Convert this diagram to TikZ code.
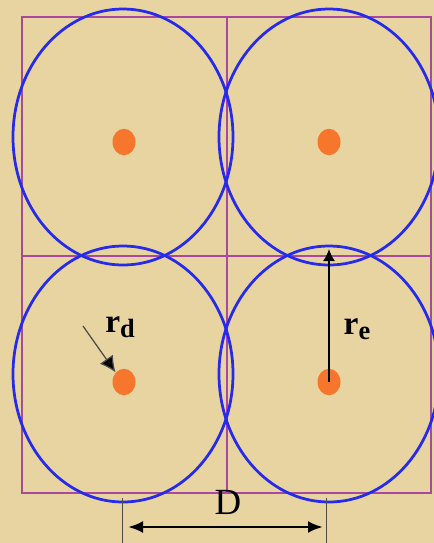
\documentclass[tikz,border=0pt]{standalone}
\usepackage{fontspec}
\setmainfont{Liberation Serif}
\usetikzlibrary{arrows.meta,positioning,shapes.geometric}
\definecolor{paper}{RGB}{232,212,160}
\definecolor{gridpurple}{RGB}{170,72,160}
\definecolor{ringblue}{RGB}{38,42,235}
\definecolor{dotorange}{RGB}{246,118,46}
\newcommand{\sublbl}[2]{#1\raisebox{-2.6pt}{\fontsize{15}{15}\selectfont #2}}

\begin{document}
\begin{tikzpicture}[
  x=0.2mm,y=-0.2mm,>=Latex,
  cell/.style={draw=gridpurple,line width=0.4mm},
  ring/.style={draw=ringblue,line width=0.55mm},
  well/.style={ellipse,fill=dotorange,inner sep=0pt,minimum width=4.6mm,minimum height=5.3mm},
  lbl/.style={font=\fontsize{19}{21}\selectfont\bfseries,inner sep=0pt},
  rdarrow/.style={-{Latex[length=3.2mm,width=3.2mm,fill=black]},draw=black!70,line width=0.25mm},
  rearrow/.style={-{Latex[length=2.4mm,width=2.4mm]},draw=black,line width=0.35mm},
  dimarrow/.style={{Latex[length=3mm,width=2.4mm]}-{Latex[length=3mm,width=2.4mm]},draw=black,line width=0.55mm},
  ext/.style={draw=black!70,line width=0.2mm}
]
\useasboundingbox (0,0) rectangle (434,543);
\fill[paper] (0,0) rectangle (434,543);
\clip (0,0) rectangle (434,543);
% ---------- cells
\draw[cell] (21.5,17) rectangle (430.5,493);
\draw[cell] (227,17) -- (227,493);
\draw[cell] (21.5,256) -- (430.5,256);
% ---------- rings
\foreach \cx/\cy in {123/137,329/137,123/374,329/374}
  \draw[ring] (\cx,\cy) ellipse[x radius=22mm,y radius=25.6mm];
% ---------- wells
\node[well] (ul) at (124,142) {};
\node[well] (ur) at (329,142) {};
\node[well] (ll) at (124,382) {};
\node[well] (lr) at (329,382) {};
% ---------- radii
\coordinate (rdtail) at (83,326);
\draw[rdarrow] (rdtail) -- (ll.north west);
\node[lbl] (rd) at (120,327) {\sublbl{r}{d}};
\coordinate (retip) at (329,249);
\draw[rearrow] (lr.center) -- (retip);
\node[lbl] (re) at (357,329) {\sublbl{r}{e}};
% ---------- spacing D
\coordinate (dltop) at (122,498);  \coordinate (dlbot) at (122,543);
\coordinate (drtop) at (326,498);  \coordinate (drbot) at (326,543);
\draw[ext] (dltop) -- (dlbot);
\draw[ext] (drtop) -- (drbot);
\coordinate (dleft) at (128,527);  \coordinate (dright) at (323,527);
\draw[dimarrow] (dleft) -- (dright);
\node[font=\fontsize{21}{23}\selectfont,inner sep=0pt] (dlbl) at (228,502) {D};
\end{tikzpicture}
\end{document}
